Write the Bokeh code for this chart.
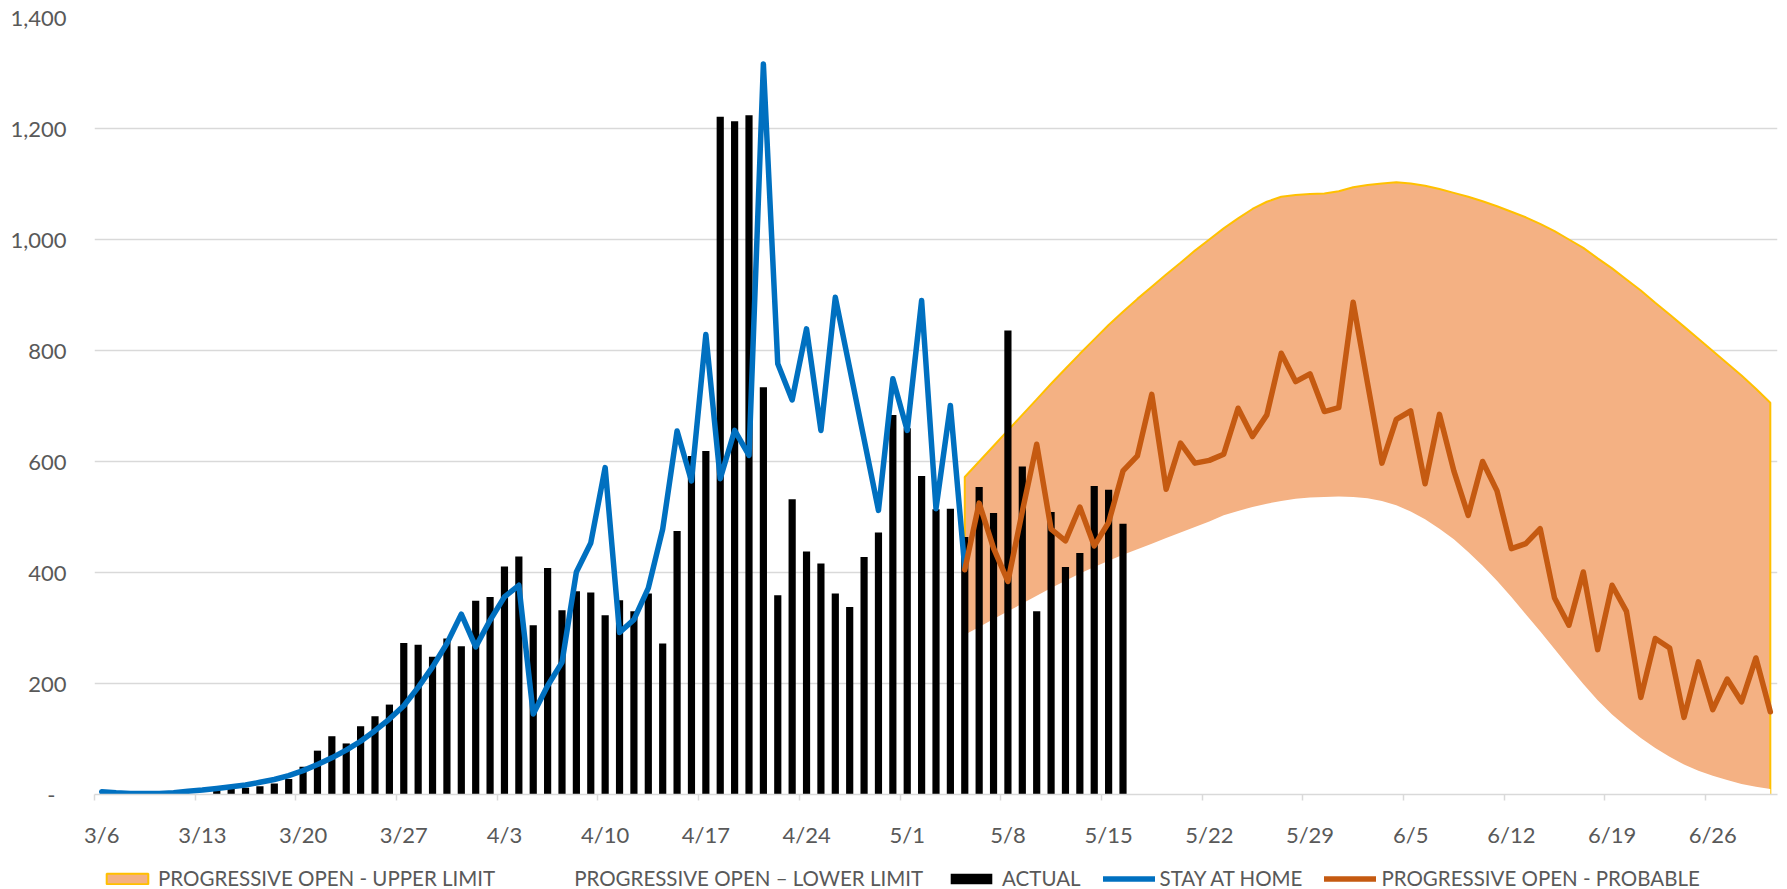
from bokeh.plotting import figure
from bokeh.layouts import column
from bokeh.models import FixedTicker, Legend, LegendItem, ColumnDataSource, NumeralTickFormatter
from bokeh.embed import file_html
from bokeh.resources import INLINE

# ---------------- data ----------------
N_DAYS = 117  # 3/6 .. 6/30, one category per day
tick_labels = ["3/6", "3/13", "3/20", "3/27", "4/3", "4/10", "4/17", "4/24", "5/1",
               "5/8", "5/15", "5/22", "5/29", "6/5", "6/12", "6/19", "6/26"]

# ACTUAL (3/6 .. 5/16)
actual = [0, 0, 0, 0, 0, 0, 0, 0, 8, 10, 12, 15, 20, 28, 50, 79, 105, 92, 123, 141,
          162, 273, 270, 248, 281, 267, 349, 356, 411, 429, 305, 408, 332, 366, 364, 323,
          350, 330, 362, 272, 475, 610, 619, 1221, 1213, 1224, 734, 359, 532, 438, 416,
          362, 338, 428, 472, 684, 660, 574, 514, 515, 464, 554, 507, 836, 591, 330, 509,
          410, 435, 556, 549, 488]

# STAY AT HOME (3/6 .. 5/5)
stay_home = [5, 3, 2, 2, 2, 3, 6, 8, 11, 14, 17, 22, 27, 34, 43, 54, 66, 80, 96, 115,
             136, 160, 193, 230, 272, 325, 266, 314, 356, 377, 145, 196, 238, 401, 453,
             589, 292, 315, 372, 478, 655, 565, 829, 569, 656, 611, 1316, 776, 711, 839,
             656, 896, 768, 640, 512, 749, 656, 890, 515, 701, 408]

# PROGRESSIVE OPEN - PROBABLE (5/5 .. 6/30)
probable = [405, 525, 444, 384, 510, 631, 478, 457, 518, 448, 490, 583, 610, 721, 550,
            633, 597, 602, 613, 696, 645, 684, 795, 744, 758, 690, 697, 887, 741, 597,
            676, 691, 560, 685, 583, 503, 600, 547, 443, 452, 479, 354, 305, 401, 261,
            377, 330, 175, 281, 264, 139, 239, 153, 208, 167, 246, 149]

# PROGRESSIVE OPEN - UPPER LIMIT (5/5 .. 6/30)
upper = [572, 600, 628, 656, 684, 712, 740, 767, 794, 820, 846, 870, 893, 915, 937,
         958, 980, 1000, 1020, 1038, 1055, 1068, 1077, 1080, 1082, 1083, 1087, 1094, 1098,
         1101, 1103, 1101, 1097, 1091, 1084, 1077, 1069, 1060, 1050, 1040, 1028, 1015,
         1000, 985, 966, 948, 928, 908, 886, 865, 843, 821, 799, 777, 755, 731, 706]

# PROGRESSIVE OPEN - LOWER LIMIT (5/5 .. 6/30)
lower = [288, 302, 316, 330, 344, 358, 372, 385, 398, 410, 421, 432, 442, 452, 462,
         472, 482, 492, 503, 511, 518, 524, 529, 533, 535, 536, 537, 536, 534, 529, 521,
         510, 496, 479, 460, 437, 412, 385, 356, 325, 294, 262, 230, 199, 170, 144, 122,
         102, 84, 68, 54, 43, 34, 26, 19, 14, 10]

FORECAST_START = 60  # index of 5/5

legend_labels = ["PROGRESSIVE OPEN - UPPER LIMIT", "PROGRESSIVE OPEN \u2013 LOWER LIMIT",
                 "ACTUAL", "STAY AT HOME", "PROGRESSIVE OPEN - PROBABLE"]

# ---------------- sources ----------------
x_actual = list(range(len(actual)))
x_home = list(range(len(stay_home)))
x_fc = list(range(FORECAST_START, FORECAST_START + len(probable)))

src_actual = ColumnDataSource(dict(x=x_actual, y=actual))
src_home = ColumnDataSource(dict(x=x_home, y=stay_home))
src_fc = ColumnDataSource(dict(x=x_fc, prob=probable, up=upper, low=lower,
                               zero=[0] * len(x_fc)))
poly_x = [x_fc[0]] + x_fc + [x_fc[-1]]
poly_y = [0] + upper + [0]

# ---------------- styles ----------------
FONT = "Lato"
TXT = "#595959"
GRID = "#D9D9D9"
C_FILL = "#F4B183"
C_EDGE = "#FFC000"
C_BLUE = "#0070C0"
C_ORANGE = "#C55A11"
LW = 5.5

TOTAL_W, TOTAL_H = 1787, 889
MAIN_H = 850
LEG_H = TOTAL_H - MAIN_H

# ---------------- main figure ----------------
p = figure(output_backend="svg", toolbar_location=None, width=TOTAL_W, height=MAIN_H,
           min_border_left=94, min_border_right=10, min_border_top=17,
           min_border_bottom=56,
           x_range=(-0.5, N_DAYS - 0.5), y_range=(0, 1400))
p.outline_line_color = None

p.patch(poly_x, poly_y, fill_color=C_FILL, line_color=C_EDGE, line_width=2)
p.varea(x="x", y1="zero", y2="low", source=src_fc, fill_color="white")
p.vbar(x="x", top="y", width=0.5, source=src_actual, fill_color="black", line_color=None)
p.line(x="x", y="y", source=src_home, line_color=C_BLUE, line_width=LW,
       line_cap="round", line_join="round")
p.line(x="x", y="prob", source=src_fc, line_color=C_ORANGE, line_width=LW,
       line_cap="round", line_join="round")

xt = FixedTicker(ticks=[7 * k for k in range(len(tick_labels))],
                 minor_ticks=[7 * k - 0.5 for k in range(len(tick_labels))])
p.xaxis.ticker = xt
p.xaxis.major_label_overrides = {7 * k: lab for k, lab in enumerate(tick_labels)}
p.xaxis.major_tick_line_color = None
p.xaxis.major_tick_out = 0
p.xaxis.major_tick_in = 0
p.xaxis.minor_tick_line_color = GRID
p.xaxis.minor_tick_line_width = 1.5
p.xaxis.minor_tick_out = 6
p.xaxis.minor_tick_in = 0
p.xaxis.axis_line_color = GRID
p.xaxis.axis_line_width = 1.5
p.xaxis.major_label_standoff = 20
p.xaxis.major_label_text_font = FONT
p.xaxis.major_label_text_font_size = "22px"
p.xaxis.major_label_text_color = TXT

yt = FixedTicker(ticks=list(range(0, 1401, 200)))
p.yaxis.ticker = yt
p.yaxis.formatter = NumeralTickFormatter(format="0,0")
p.yaxis.major_label_overrides = {0: "-\u2002"}
p.yaxis.axis_line_color = None
p.yaxis.major_tick_line_color = None
p.yaxis.minor_tick_line_color = None
p.yaxis.major_tick_out = 0
p.yaxis.major_tick_in = 0
p.yaxis.major_label_standoff = 28
p.yaxis.major_label_text_font = FONT
p.yaxis.major_label_text_font_size = "22px"
p.yaxis.major_label_text_color = TXT

p.xgrid.visible = False
p.ygrid.ticker = yt
p.ygrid.grid_line_color = GRID
p.ygrid.grid_line_width = 1.5

# ---------------- legend strip (same data, drawn out of view) ----------------
lg = figure(output_backend="svg", toolbar_location=None, width=TOTAL_W, height=LEG_H,
            min_border=0, x_axis_type=None, y_axis_type=None,
            x_range=(-0.5, N_DAYS - 0.5), y_range=(5000, 5001))
lg.outline_line_color = None
lg.grid.visible = False
g_up = lg.patch(poly_x, poly_y, fill_color=C_FILL, line_color=C_EDGE, line_width=2)
g_low = lg.varea(x="x", y1="zero", y2="low", source=src_fc, fill_color="white")
g_act = lg.vbar(x="x", top="y", width=0.5, source=src_actual, fill_color="black",
                line_color=None)
g_home = lg.line(x="x", y="y", source=src_home, line_color=C_BLUE, line_width=LW,
                 line_cap="round")
g_prob = lg.line(x="x", y="prob", source=src_fc, line_color=C_ORANGE, line_width=LW,
                 line_cap="round")

legend = Legend(items=[LegendItem(label=lab, renderers=[r]) for lab, r in
                       zip(legend_labels, [g_up, g_low, g_act, g_home, g_prob])],
                orientation="horizontal", location=(7, -1), padding=0, margin=0,
                spacing=22, label_standoff=5, glyph_width=52, glyph_height=13,
                label_height=24, label_text_font=FONT, label_text_font_size="20.5px",
                label_text_color=TXT, border_line_color=None, background_fill_alpha=0)
lg.add_layout(legend)

layout = column(p, lg, spacing=0)

open("out.html", "w").write(file_html(layout, INLINE))
